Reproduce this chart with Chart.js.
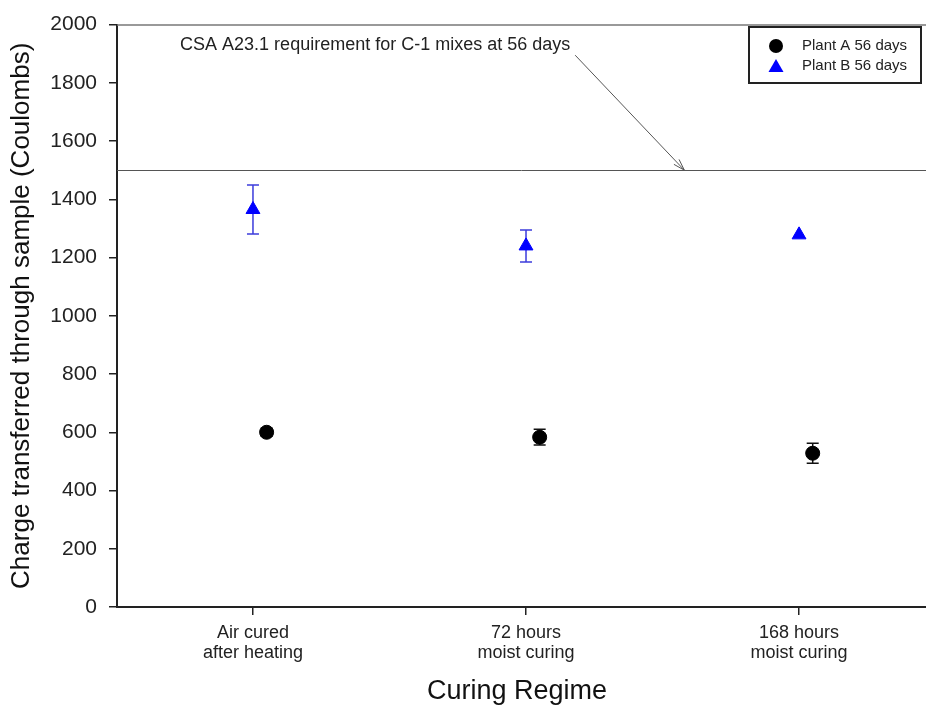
<!DOCTYPE html>
<html>
<head>
<meta charset="utf-8">
<script src="https://cdn.jsdelivr.net/npm/chart.js@4.4.1/dist/chart.umd.min.js"></script>
<style>
  body { margin: 0; background: #fff; overflow: hidden; }
  #wrap { width: 926px; height: 711px; }
</style>
</head>
<body>
<div id="wrap"><canvas id="chart"></canvas></div>
<script>
// data
const categories = [['Air cured', 'after heating'], ['72 hours', 'moist curing'], ['168 hours', 'moist curing']];
const plantA = [600, 583, 528];
const plantAErr = [14, 27, 34];
const plantB = [1365, 1240, 1278];
const plantBErr = [84, 55, 0];
const yTicks = [0, 200, 400, 600, 800, 1000, 1200, 1400, 1600, 1800, 2000];
const requirement = 1500;
const noteText = 'CSA A23.1 requirement for C-1 mixes at 56 days';

const FONT = '"Liberation Sans", Arial, sans-serif';

const toPoints = (vals, shift) => vals.map((v, i) => ({ x: i + 1 + shift, y: v }));

const seriesA = {
  label: 'Plant A 56 days',
  data: toPoints(plantA, 0.05),
  err: plantAErr,
  pointStyle: 'circle',
  pointRadius: 7,
  backgroundColor: '#000',
  borderColor: '#000',
  errColor: '#111'
};
const seriesB = {
  label: 'Plant B 56 days',
  data: toPoints(plantB, 0),
  err: plantBErr,
  pointStyle: 'triangle',
  pointRadius: 8,
  backgroundColor: '#0000ff',
  borderColor: '#0000ff',
  errColor: '#3c3cdc'
};

const overlay = {
  id: 'overlay',
  beforeDatasetsDraw(chart) {
    const { ctx, chartArea: a, scales: { x, y } } = chart;
    const W = chart.width;
    ctx.save();
    // top frame
    ctx.strokeStyle = '#777';
    ctx.lineWidth = 1.5;
    ctx.beginPath();
    ctx.moveTo(a.left, a.top + 0.5);
    ctx.lineTo(W, a.top + 0.5);
    ctx.stroke();
    // bottom axis runs on past the plot edge
    ctx.strokeStyle = '#222';
    ctx.lineWidth = 2;
    ctx.beginPath();
    ctx.moveTo(a.right - 4, Math.round(a.bottom));
    ctx.lineTo(W, Math.round(a.bottom));
    ctx.stroke();
    // requirement line
    const ry = Math.round(y.getPixelForValue(requirement)) + 0.5;
    ctx.strokeStyle = '#555';
    ctx.lineWidth = 1;
    ctx.beginPath();
    ctx.moveTo(a.left, ry);
    ctx.lineTo(W, ry);
    ctx.stroke();
    // error bars
    chart.data.datasets.forEach(ds => {
      ctx.strokeStyle = ds.errColor;
      ctx.lineWidth = 1.5;
      ds.data.forEach((p, i) => {
        if (!ds.err[i]) return;
        const px = x.getPixelForValue(p.x);
        const top = y.getPixelForValue(p.y + ds.err[i]);
        const bot = y.getPixelForValue(p.y - ds.err[i]);
        ctx.beginPath();
        ctx.moveTo(px, top); ctx.lineTo(px, bot);
        ctx.moveTo(px - 6, top); ctx.lineTo(px + 6, top);
        ctx.moveTo(px - 6, bot); ctx.lineTo(px + 6, bot);
        ctx.stroke();
      });
    });
    ctx.restore();
  },
  afterDraw(chart) {
    const { ctx, scales: { x, y } } = chart;
    ctx.save();
    // annotation + arrow
    ctx.font = '18px ' + FONT;
    ctx.fillStyle = '#222';
    ctx.textBaseline = 'middle';
    ctx.textAlign = 'left';
    ctx.fillText(noteText, x.getPixelForValue(0.733), y.getPixelForValue(1930));
    const x0 = x.getPixelForValue(2.18), y0 = y.getPixelForValue(1895);
    const x1 = x.getPixelForValue(2.58), y1 = y.getPixelForValue(requirement);
    ctx.strokeStyle = '#555';
    ctx.lineWidth = 1;
    ctx.beginPath();
    ctx.moveTo(x0, y0); ctx.lineTo(x1, y1);
    const ang = Math.atan2(y1 - y0, x1 - x0);
    ctx.moveTo(x1, y1); ctx.lineTo(x1 - 12 * Math.cos(ang - 0.3), y1 - 12 * Math.sin(ang - 0.3));
    ctx.moveTo(x1, y1); ctx.lineTo(x1 - 12 * Math.cos(ang + 0.3), y1 - 12 * Math.sin(ang + 0.3));
    ctx.stroke();
    // legend box
    const bx = 749, by = 27, bw = 172, bh = 56;
    ctx.strokeStyle = '#222';
    ctx.lineWidth = 2;
    ctx.strokeRect(bx, by, bw, bh);
    ctx.font = '15px ' + FONT;
    chart.data.datasets.forEach((ds, i) => {
      const cy = by + 19 + i * 20;
      const mx = bx + 27;
      ctx.fillStyle = ds.backgroundColor;
      ctx.beginPath();
      if (ds.pointStyle === 'circle') {
        ctx.arc(mx, cy, 7, 0, Math.PI * 2);
      } else {
        ctx.moveTo(mx, cy - 7);
        ctx.lineTo(mx + 7.5, cy + 6);
        ctx.lineTo(mx - 7.5, cy + 6);
        ctx.closePath();
      }
      ctx.fill();
      ctx.fillStyle = '#222';
      ctx.fillText(ds.label, bx + 53, cy);
    });
    ctx.restore();
  }
};

new Chart(document.getElementById('chart'), {
  type: 'scatter',
  data: { datasets: [seriesA, seriesB] },
  plugins: [overlay],
  options: {
    responsive: true,
    maintainAspectRatio: false,
    animation: false,
    layout: { padding: { top: 19, left: 0, right: 0, bottom: 0 } },
    plugins: { legend: { display: false }, tooltip: { enabled: false } },
    scales: {
      x: {
        type: 'linear',
        min: 0.502,
        max: 3.432,
        afterBuildTicks: s => { s.ticks = categories.map((c, i) => ({ value: i + 1 })); },
        afterFit: s => { s.height = 104; },
        grid: { display: true, drawOnChartArea: false, drawTicks: true, tickLength: 8, color: '#222', lineWidth: 1.5 },
        border: { display: true, color: '#222', width: 2 },
        ticks: {
          padding: 8,
          color: '#222',
          font: { family: FONT, size: 18, lineHeight: 1.12 },
          callback: (v) => categories[Math.round(v) - 1]
        },
        title: {
          display: true,
          text: 'Curing Regime',
          color: '#111',
          font: { family: FONT, size: 27 },
          padding: { top: 0, bottom: 3 }
        }
      },
      y: {
        min: 0,
        max: 2000,
        afterBuildTicks: s => { s.ticks = yTicks.map(v => ({ value: v })); },
        afterFit: s => { s.width = 117; },
        grid: { display: true, drawOnChartArea: false, drawTicks: true, tickLength: 8, color: '#222', lineWidth: 1.5 },
        border: { display: true, color: '#222', width: 2 },
        ticks: {
          padding: 12,
          color: '#222',
          font: { family: FONT, size: 21 },
          callback: v => String(v)
        },
        title: {
          display: true,
          text: 'Charge transferred through sample (Coulombs)',
          color: '#111',
          font: { family: FONT, size: 26 },
          padding: { top: 6, bottom: 0 }
        }
      }
    }
  }
});
</script>
</body>
</html>
